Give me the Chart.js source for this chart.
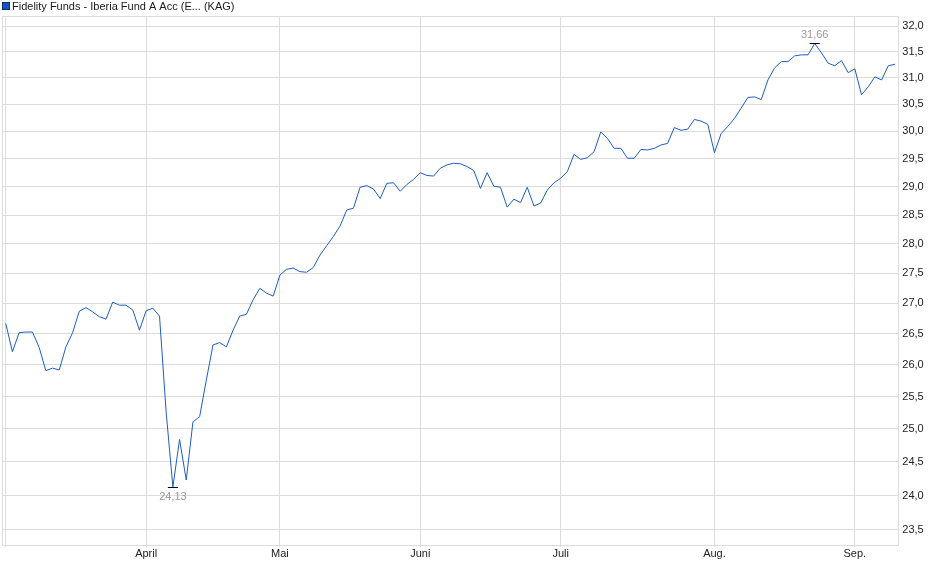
<!DOCTYPE html>
<html>
<head>
<meta charset="utf-8">
<script src="https://cdn.jsdelivr.net/npm/chart.js@4.4.1/dist/chart.umd.min.js"></script>
<style>
    html, body { margin: 0; padding: 0; background: #fff; }
    canvas { display: block; }
</style>
</head>
<body>
<canvas id="kurs" width="940" height="579"></canvas>
<script>
// Fondsname für die Kopfzeile
const fundName = 'Fidelity Funds - Iberia Fund A Acc (E... (KAG)';

// Tageskurse (Handelstage, Anfang März bis Anfang September)
const values = [
    26.67, 26.21, 26.52, 26.53, 26.53, 26.28, 25.91, 25.95, 25.92, 26.29,
    26.52, 26.87, 26.93, 26.86, 26.78, 26.74, 27.02, 26.97, 26.97, 26.89,
    26.56, 26.88, 26.92, 26.79, 25.25, 24.13, 24.84, 24.23, 25.11, 25.19,
    25.76, 26.32, 26.36, 26.29, 26.56, 26.79, 26.82, 27.06, 27.25, 27.17,
    27.12, 27.47, 27.57, 27.59, 27.53, 27.52, 27.60, 27.81, 27.97, 28.13,
    28.31, 28.59, 28.62, 28.99, 29.02, 28.96, 28.79, 29.06, 29.07, 28.92,
    29.04, 29.13, 29.25, 29.20, 29.19, 29.33, 29.39, 29.42, 29.41, 29.36,
    29.29, 28.97, 29.25, 29.01, 28.99, 28.64, 28.78, 28.72, 28.99, 28.66,
    28.71, 28.94, 29.07, 29.15, 29.27, 29.58, 29.49, 29.52, 29.63, 29.99,
    29.87, 29.69, 29.69, 29.51, 29.51, 29.67, 29.66, 29.69, 29.75, 29.78,
    30.07, 30.02, 30.04, 30.22, 30.19, 30.13, 29.61, 29.96, 30.09, 30.24,
    30.43, 30.63, 30.64, 30.59, 30.96, 31.19, 31.31, 31.31, 31.42, 31.44,
    31.44, 31.66, 31.48, 31.28, 31.23, 31.33, 31.10, 31.17, 30.68, 30.83,
    31.02, 30.96, 31.23, 31.26
];

// Monatsanfänge (Index des Handelstages) und Beschriftung
const monthIdx = [0, 21, 41, 62, 83, 106, 127];
const monthLabels = ['', 'April', 'Mai', 'Juni', 'Juli', 'Aug.', 'Sep.'];

// Y-Achse (logarithmisch)
const yTicks = [23.5, 24.0, 24.5, 25.0, 25.5, 26.0, 26.5, 27.0, 27.5, 28.0,
                28.5, 29.0, 29.5, 30.0, 30.5, 31.0, 31.5, 32.0];
const yMin = 23.285;
const yMax = 32.197;

const gridColor = '#dcdcdc';
const lineColor = '#1d5cc6';
const fontFam = '"Liberation Sans", Arial, sans-serif';

Chart.defaults.font.family = fontFam;
Chart.defaults.font.size = 11;

function komma(v, d) {
    return v.toFixed(d).replace('.', ',');
}

// Rahmen um den Plotbereich
const rahmen = {
    id: 'rahmen',
    beforeDatasetsDraw(chart) {
        const a = chart.chartArea;
        const ctx = chart.ctx;
        ctx.save();
        ctx.strokeStyle = gridColor;
        ctx.lineWidth = 1;
        const l = Math.round(a.left), t = Math.round(a.top);
        const r = Math.round(a.right), b = Math.round(a.bottom);
        ctx.strokeRect(l + 0.5, t + 0.5, r - l, b - t);
        ctx.restore();
    }
};

// Kopfzeile mit Farbkästchen
const kopf = {
    id: 'kopf',
    afterDraw(chart) {
        const ctx = chart.ctx;
        ctx.save();
        ctx.fillStyle = '#1a52c0';
        ctx.fillRect(2.5, 2.5, 7, 7);
        ctx.strokeStyle = '#0c2c78';
        ctx.lineWidth = 1;
        ctx.strokeRect(2.5, 2.5, 7, 7);
        ctx.fillStyle = '#1a1a1a';
        ctx.font = '11px ' + fontFam;
        ctx.textBaseline = 'middle';
        ctx.textAlign = 'left';
        ctx.fillText(fundName, 12, 6.5);
        ctx.restore();
    }
};

// Hoch- und Tiefpunkt markieren
const extreme = {
    id: 'extreme',
    afterDatasetsDraw(chart) {
        const xs = chart.scales.x, ys = chart.scales.y;
        const ctx = chart.ctx;
        const hi = values.indexOf(Math.max(...values));
        const lo = values.indexOf(Math.min(...values));
        ctx.save();
        ctx.font = '11px ' + fontFam;
        ctx.textAlign = 'center';
        [[hi, 'bottom', -3], [lo, 'top', 4]].forEach(([i, base, off]) => {
            const px = xs.getPixelForValue(i);
            const py = Math.round(ys.getPixelForValue(values[i])) + 0.5;
            ctx.strokeStyle = '#000';
            ctx.lineWidth = 1;
            ctx.beginPath();
            ctx.moveTo(px - 5, py);
            ctx.lineTo(px + 5, py);
            ctx.stroke();
            ctx.fillStyle = '#9a9a9a';
            ctx.textBaseline = base;
            ctx.fillText(komma(values[i], 2), px, py + off);
        });
        ctx.restore();
    }
};

new Chart(document.getElementById('kurs').getContext('2d'), {
    type: 'line',
    data: {
        datasets: [{
            label: fundName,
            data: values.map((v, i) => ({ x: i, y: v })),
            borderColor: lineColor,
            borderWidth: 1,
            pointRadius: 0,
            fill: false,
            tension: 0
        }]
    },
    options: {
        responsive: false,
        animation: false,
        devicePixelRatio: 1,
        events: [],
        layout: { padding: { left: 2.4, top: 16, right: 0, bottom: 0 } },
        plugins: {
            legend: { display: false },
            tooltip: { enabled: false }
        },
        scales: {
            x: {
                type: 'linear',
                bounds: 'data',
                min: -0.5,
                max: values.length - 0.5,
                afterBuildTicks: s => { s.ticks = monthIdx.map(v => ({ value: v })); },
                afterFit: s => { s.height = 34; },
                ticks: {
                    autoSkip: false,
                    maxRotation: 0,
                    padding: 0,
                    color: '#222',
                    callback: (v, i) => monthLabels[i]
                },
                grid: { color: gridColor, drawTicks: true, tickLength: 2 },
                border: { display: false }
            },
            y: {
                type: 'logarithmic',
                position: 'right',
                bounds: 'data',
                min: yMin,
                max: yMax,
                afterBuildTicks: s => { s.ticks = yTicks.map(v => ({ value: v })); },
                afterFit: s => { s.width = 41.7; },
                ticks: {
                    autoSkip: false,
                    padding: 4,
                    color: '#222',
                    callback: v => komma(v, 1)
                },
                grid: { color: gridColor, drawTicks: false },
                border: { display: false }
            }
        }
    },
    plugins: [rahmen, kopf, extreme]
});
</script>
</body>
</html>
